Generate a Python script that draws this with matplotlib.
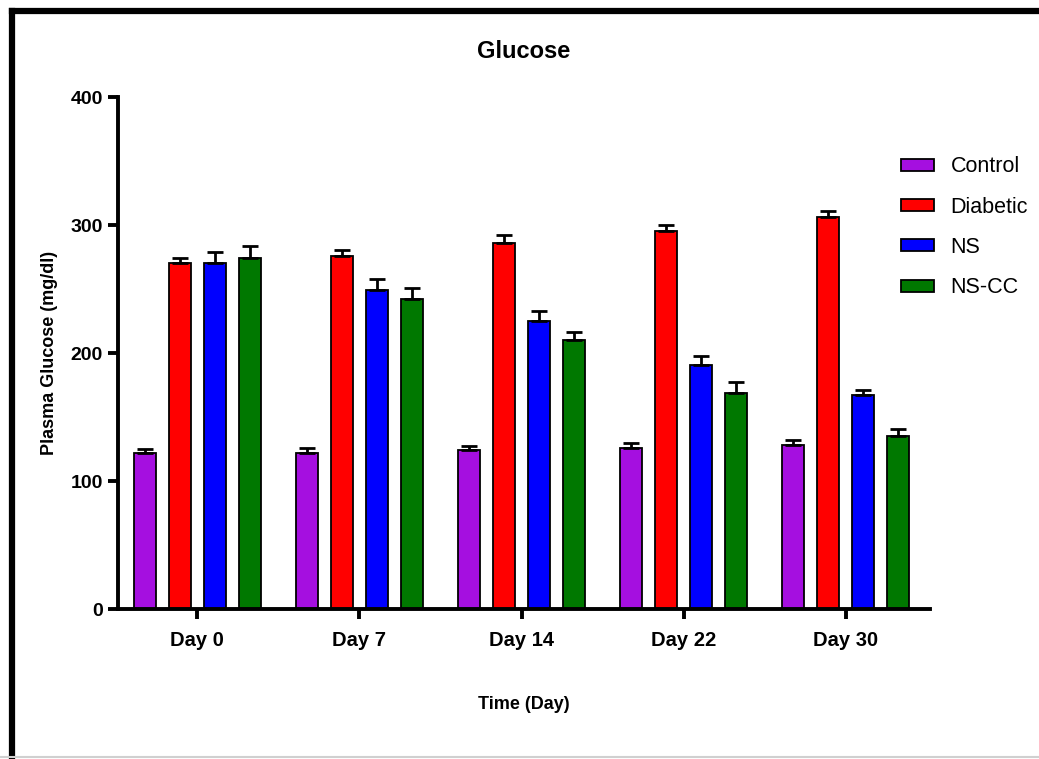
import matplotlib
matplotlib.use("Agg")
import matplotlib.pyplot as plt
from matplotlib.lines import Line2D
import numpy as np

plt.rcParams['font.family'] = ['Liberation Sans', 'DejaVu Sans']

# data
days = ["Day 0", "Day 7", "Day 14", "Day 22", "Day 30"]
groups = ["Control", "Diabetic", "NS", "NS-CC"]
colors = ["#A50FE0", "#FF0000", "#0000FF", "#007800"]

control = [122, 122, 124, 126, 128]
diabetic = [270, 276, 286, 295, 306]
ns = [270, 249, 225, 191, 167]
ns_cc = [274, 242, 210, 169, 135]

control_err = [3, 3.5, 3.5, 4, 4]
diabetic_err = [4, 4.5, 6, 5, 5]
ns_err = [9, 9, 8, 7, 4]
ns_cc_err = [9.5, 8.5, 6.5, 8, 5.5]

values = [control, diabetic, ns, ns_cc]
errors = [control_err, diabetic_err, ns_err, ns_cc_err]

fig = plt.figure(figsize=(10.39, 7.59), dpi=100)
ax = fig.add_axes([0.1136, 0.1976, 0.7814, 0.6746])

x = np.arange(len(days))
width = 0.135
offsets = [-0.324, -0.108, 0.108, 0.324]

for vals, errs, col, off, name in zip(values, errors, colors, offsets, groups):
    ax.bar(x + off, vals, width, color=col, edgecolor="black", linewidth=1.3,
           label=name, zorder=2)
    ax.errorbar(x + off, vals, yerr=[np.zeros(len(errs)), errs], fmt="none",
                ecolor="black", elinewidth=2, capsize=6, capthick=2, zorder=3)

ax.set_xlim(-0.49, 4.52)
ax.set_ylim(0, 400)
ax.set_yticks([0, 100, 200, 300, 400])
ax.set_xticks(x)
ax.set_xticklabels(days)

for s in ["top", "right"]:
    ax.spines[s].set_visible(False)
for s in ["left", "bottom"]:
    ax.spines[s].set_linewidth(2.8)
ax.tick_params(axis="both", width=2.8, length=7)
ax.tick_params(axis="x", pad=9, labelsize=14.5)
ax.tick_params(axis="y", pad=4, labelsize=14)
for lbl in ax.get_xticklabels() + ax.get_yticklabels():
    lbl.set_fontweight("bold")

ax.set_title("Glucose", fontsize=17, fontweight="bold", pad=28)
ax.set_ylabel("Plasma Glucose (mg/dl)", fontsize=13, fontweight="bold", labelpad=9)
ax.set_xlabel("Time (Day)", fontsize=13, fontweight="bold", labelpad=33)

leg = ax.legend(loc="upper left", bbox_to_anchor=(0.940, 0.922), frameon=False,
                fontsize=15.5, handlelength=1.53, handleheight=0.47,
                labelspacing=0.9, handletextpad=0.8)

# outer frame (left and top edges visible in the reference)
fig.add_artist(Line2D([0.012, 0.012], [0.0, 0.985], color="black", lw=4.5,
                      transform=fig.transFigure, solid_capstyle="projecting"))
fig.add_artist(Line2D([0.012, 1.0], [0.985, 0.985], color="black", lw=4.5,
                      transform=fig.transFigure, solid_capstyle="projecting"))
fig.add_artist(Line2D([0.0, 1.0], [0.002, 0.002], color="#d0d0d0", lw=1.5,
                      transform=fig.transFigure))

fig.savefig("out.png", dpi=100)
